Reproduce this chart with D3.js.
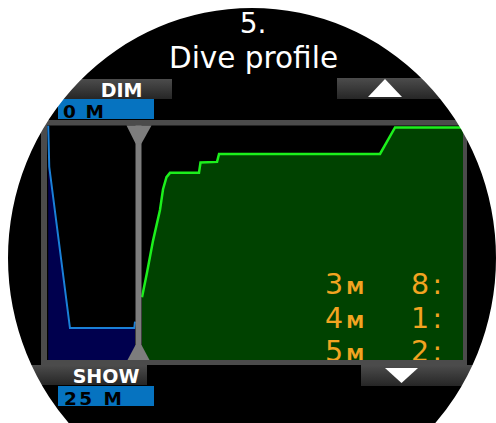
<!DOCTYPE html>
<html><head><meta charset="utf-8">
<script src="https://cdn.jsdelivr.net/npm/d3@7/dist/d3.min.js"></script>
<style>html,body{margin:0;padding:0;background:#fff;overflow:hidden}svg{display:block}</style>
</head><body><svg id="c" width="496" height="423"></svg>
<script>
// ---- data ----
const titleNumber = "5.";
const titleText = "Dive profile";
const depthTopLabel = "0 M";
const depthBottomLabel = "25 M";
const depthDomain = [0, 25];
// overview (left panel) profile: time (min) / depth (m)
const overviewTime  = [0.5, 1.2, 15.4, 59.5, 60];
const overviewDepth = [0, 4.4, 21.6, 21.6, 20.9];
// zoomed (right panel) ascent profile: time (min) / depth (m)
const ascentTime  = [0, 0.62, 1.37, 2.24, 2.62, 3.05, 3.49, 7.1, 7.29, 9.35, 9.6, 29.66, 31.53, 40];
const ascentDepth = [18.3, 15.7, 12.3, 9.0, 6.8, 5.5, 5.05, 5.05, 3.94, 3.88, 3.03, 3.03, 0.2, 0.2];
const stopDepths = ["3", "4", "5"];
const stopTimes  = ["8:", "1:", "2:"];

// ---- layout ----
const W = 496, H = 423;
const svg = d3.select("#c");
svg.append("rect").attr("width", W).attr("height", H).attr("fill", "#000");

const defs = svg.append("defs");
const g1 = defs.append("linearGradient").attr("id", "band").attr("x1", 0).attr("y1", 0).attr("x2", 0).attr("y2", 1);
g1.append("stop").attr("offset", "0%").attr("stop-color", "#4c4c4c");
g1.append("stop").attr("offset", "100%").attr("stop-color", "#262626");

const plot = {x0: 47, x1: 463, y0: 125.5, y1: 360};
const cursorX = 138.5;

defs.append("clipPath").attr("id", "plotclip").append("rect")
  .attr("x", plot.x0).attr("y", plot.y0).attr("width", plot.x1 - plot.x0).attr("height", plot.y1 - plot.y0);

// title
svg.append("text").attr("x", 253).attr("y", 33).attr("text-anchor", "middle")
  .attr("font-family", "DejaVu Sans").attr("font-size", 28).attr("fill", "#fff").text(titleNumber);
svg.append("text").attr("x", 253.5).attr("y", 68).attr("text-anchor", "middle")
  .attr("font-family", "DejaVu Sans").attr("font-size", 29.5).attr("fill", "#fff").text(titleText);

// top bands
svg.append("rect").attr("x", 0).attr("y", 79).attr("width", 172).attr("height", 20).attr("fill", "url(#band)");
svg.append("text").attr("x", 121.5).attr("y", 96.5).attr("text-anchor", "middle")
  .attr("font-family", "DejaVu Sans").attr("font-weight", "bold").attr("font-size", 19).attr("fill", "#fff").text("DIM");
svg.append("rect").attr("x", 337).attr("y", 78).attr("width", 160).attr("height", 21).attr("fill", "url(#band)");
svg.append("path").attr("d", "M385,79 L402,97 L368,97 Z").attr("fill", "#fff");

svg.append("rect").attr("x", 58).attr("y", 99).attr("width", 96).attr("height", 20).attr("fill", "#0673c0");
svg.append("text").attr("x", 63).attr("y", 117.5)
  .attr("font-family", "DejaVu Sans").attr("font-weight", "bold").attr("font-size", 18.5).attr("fill", "#000")
  .attr("textLength", 41).text(depthTopLabel);

// frame
svg.append("rect").attr("x", 41).attr("y", 120).attr("width", 426).attr("height", 245).attr("fill", "#4b4b4b");
svg.append("rect").attr("x", plot.x0).attr("y", plot.y0).attr("width", plot.x1 - plot.x0).attr("height", plot.y1 - plot.y0).attr("fill", "#000");

// scales
const y = d3.scaleLinear().domain(depthDomain).range([plot.y0, plot.y1]);
const xo = d3.scaleLinear().domain([0, 60]).range([plot.x0 + 0.5, 135]);
const xa = d3.scaleLinear().domain([0, 40]).range([142, plot.x1]);

const pg = svg.append("g").attr("clip-path", "url(#plotclip)");

const ov = overviewTime.map((t, i) => [t, overviewDepth[i]]);
const as = ascentTime.map((t, i) => [t, ascentDepth[i]]);

pg.append("path").datum(ov)
  .attr("d", d3.area().x(d => xo(d[0])).y0(plot.y1).y1(d => y(d[1])))
  .attr("fill", "#00004e");
pg.append("path").datum(ov)
  .attr("d", d3.line().x(d => xo(d[0])).y(d => y(d[1])))
  .attr("fill", "none").attr("stroke", "#1a80d8").attr("stroke-width", 2);

pg.append("path").datum(as)
  .attr("d", d3.area().x(d => xa(d[0])).y0(plot.y1).y1(d => y(d[1])))
  .attr("fill", "#004200");
pg.append("path").datum(as)
  .attr("d", d3.line().x(d => xa(d[0])).y(d => y(d[1])))
  .attr("fill", "none").attr("stroke", "#1cf01c").attr("stroke-width", 2.5);

// stop table
const tg = pg.append("g").attr("font-family", "DejaVu Sans").attr("fill", "#f2a421");
stopDepths.forEach((d, i) => {
  const by = 294 + i * 33.5;
  const t = tg.append("text").attr("x", 325).attr("y", by).attr("font-size", 28.5);
  t.append("tspan").text(d);
  t.append("tspan").attr("font-size", 18).attr("font-weight", "bold").attr("dx", 3).text("M");
  tg.append("text").attr("x", 411).attr("y", by).attr("font-size", 28.5)
    .attr("textLength", 31).text(stopTimes[i]);
});

// cursor
svg.append("rect").attr("x", cursorX - 3).attr("y", plot.y0).attr("width", 6).attr("height", plot.y1 - plot.y0).attr("fill", "#7d7d7d");
svg.append("path").attr("d", `M${cursorX - 12},${plot.y0} L${cursorX + 13},${plot.y0} L${cursorX + 3},${plot.y0 + 18} L${cursorX - 3},${plot.y0 + 18} Z`).attr("fill", "#7d7d7d");
svg.append("path").attr("d", `M${cursorX - 11},${plot.y1} L${cursorX + 11},${plot.y1} L${cursorX + 3},${plot.y1 - 15} L${cursorX - 3},${plot.y1 - 15} Z`).attr("fill", "#7d7d7d");

// bottom bands
svg.append("rect").attr("x", 0).attr("y", 365).attr("width", 147).attr("height", 20).attr("fill", "url(#band)");
svg.append("text").attr("x", 106).attr("y", 382.5).attr("text-anchor", "middle")
  .attr("font-family", "DejaVu Sans").attr("font-weight", "bold").attr("font-size", 19).attr("fill", "#fff").text("SHOW");
svg.append("rect").attr("x", 361).attr("y", 365).attr("width", 140).attr("height", 21).attr("fill", "url(#band)");
svg.append("path").attr("d", "M385,368 L418,368 L401.5,383 Z").attr("fill", "#fff");

svg.append("rect").attr("x", 58).attr("y", 386).attr("width", 96).attr("height", 20).attr("fill", "#0673c0");
svg.append("text").attr("x", 64).attr("y", 404.5)
  .attr("font-family", "DejaVu Sans").attr("font-weight", "bold").attr("font-size", 18.5).attr("fill", "#000")
  .attr("textLength", 58).text(depthBottomLabel);

// white surround outside the round display
const cx = 252, cy = 258, rx = 244, ry = 250;
const ell = `M${cx - rx},${cy} A${rx},${ry} 0 1,0 ${cx + rx},${cy} A${rx},${ry} 0 1,0 ${cx - rx},${cy} Z`;
svg.append("path").attr("d", `M0,0 H${W} V${H} H0 Z ` + ell).attr("fill", "#fff").attr("fill-rule", "evenodd");
</script></body></html>
